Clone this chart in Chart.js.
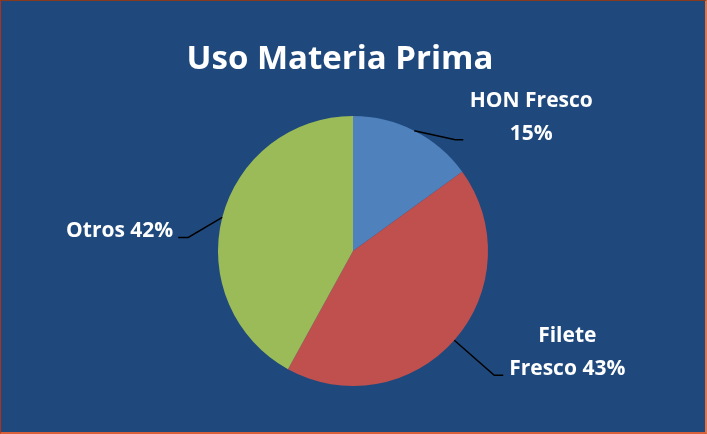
<!DOCTYPE html>
<html>
<head>
<meta charset="utf-8">
<script src="https://cdn.jsdelivr.net/npm/chart.js@4/dist/chart.umd.min.js"></script>
<style>
  html, body { margin: 0; padding: 0; background: #1F497D; overflow: hidden; }
  #wrap { position: relative; width: 707px; height: 434px; }
  #c { position: absolute; left: 0; top: 0; }
  #frame { position: absolute; left: 0; top: 0; width: 707px; height: 434px; box-sizing: border-box;
    border-top: 1px solid #8A3A1C; border-left: 1px solid #B0301A; border-right: 2px solid #E0764A; border-bottom: 2px solid #D9603A; pointer-events: none; }
</style>
</head>
<body>
<div id="wrap">
  <canvas id="c" width="707" height="434"></canvas>
  <div id="frame"></div>
</div>
<script>
const TITLE = 'Uso Materia Prima';
const categories = ['HON Fresco', 'Filete Fresco', 'Otros'];
const values = [15, 43, 42];
const labelLines = [['HON Fresco', '15%'], ['Filete', 'Fresco 43%'], ['Otros 42%']];
const colors = ['#4F81BD', '#C0504D', '#9BBB59'];

const FONT = '"Open Sans", Lato, sans-serif';

const titlePlugin = {
  id: 'customTitle',
  afterDraw(chart, args, opts) {
    const ctx = chart.ctx;
    ctx.save();
    ctx.fillStyle = '#FFFFFF';
    ctx.font = 'bold 33px ' + FONT;
    ctx.textAlign = 'center';
    ctx.textBaseline = 'alphabetic';
    ctx.fillText(opts.text, opts.x, opts.y);
    ctx.restore();
  }
};

const calloutPlugin = {
  id: 'callouts',
  afterDatasetsDraw(chart, args, opts) {
    const meta = chart.getDatasetMeta(0);
    const ctx = chart.ctx;
    ctx.save();
    meta.data.forEach((arc, i) => {
      const p = arc.getProps(['x', 'y', 'startAngle', 'endAngle', 'outerRadius'], true);
      const mid = (p.startAngle + p.endAngle) / 2;
      const ax = p.x + Math.cos(mid) * p.outerRadius;
      const ay = p.y + Math.sin(mid) * p.outerRadius;
      const c = opts.items[i];
      const ex = ax + c.elbow[0], ey = ay + c.elbow[1];
      const tx = ax + c.end[0], ty = ay + c.end[1];
      ctx.strokeStyle = '#000000';
      ctx.lineWidth = 1.5;
      ctx.beginPath();
      ctx.moveTo(ax, ay);
      ctx.lineTo(ex, ey);
      ctx.lineTo(tx, ty);
      ctx.stroke();
      const lines = labelLines[i];
      ctx.fillStyle = '#FFFFFF';
      ctx.font = 'bold 21px ' + FONT;
      ctx.textAlign = c.align;
      ctx.textBaseline = 'alphabetic';
      const lx = tx + c.textDx;
      const lastY = ty;
      lines.forEach((ln, k) => {
        ctx.fillText(ln, lx, lastY - (lines.length - 1 - k) * opts.lineHeight);
      });
    });
    ctx.restore();
  }
};

new Chart(document.getElementById('c'), {
  type: 'pie',
  data: {
    labels: categories,
    datasets: [{
      data: values,
      backgroundColor: colors,
      borderWidth: 0
    }]
  },
  options: {
    responsive: false,
    animation: false,
    layout: { padding: { top: 116, bottom: 48, left: 218, right: 219 } },
    plugins: {
      legend: { display: false },
      tooltip: { enabled: false },
      title: { display: false },
      customTitle: { text: TITLE, x: 340, y: 69 },
      callouts: {
        lineHeight: 33,
        items: [
          { elbow: [41, 9], end: [49, 9], align: 'center', textDx: 68 },
          { elbow: [40, 35], end: [49, 35], align: 'center', textDx: 64 },
          { elbow: [-34, 20], end: [-44, 20], align: 'right', textDx: -5 }
        ]
      }
    }
  },
  plugins: [titlePlugin, calloutPlugin]
});
</script>
</body>
</html>
